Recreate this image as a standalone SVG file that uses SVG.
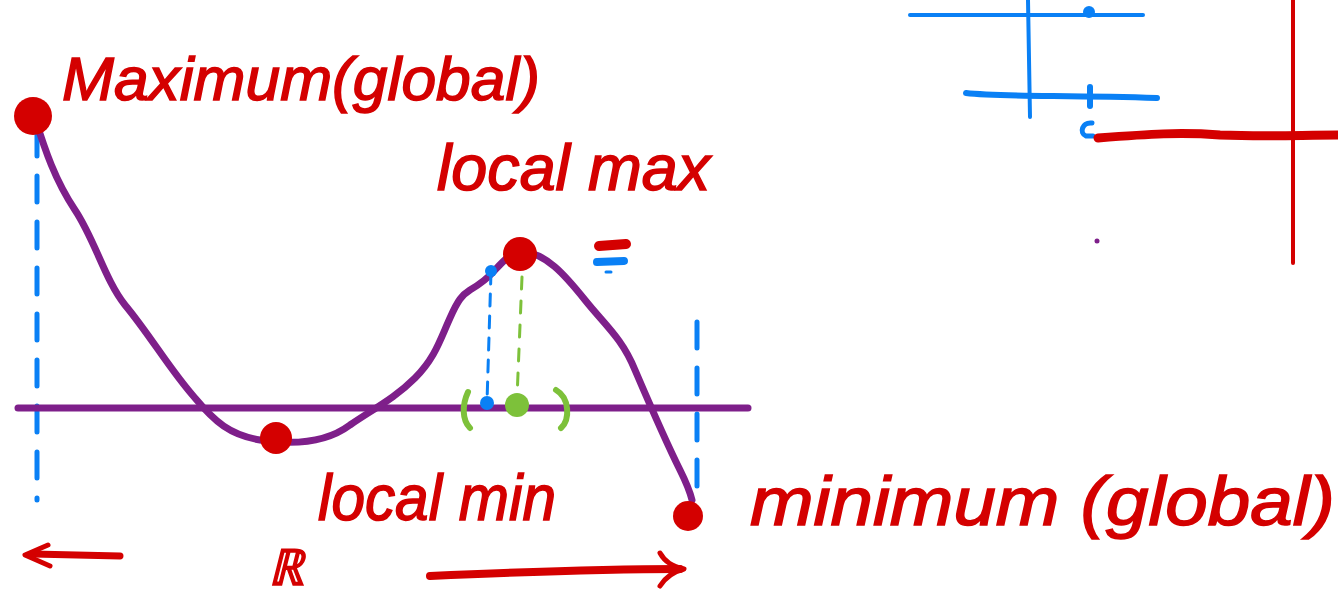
<svg xmlns="http://www.w3.org/2000/svg" width="1338" height="598" viewBox="0 0 1338 598">
<style>
.pur{fill:none;stroke:#7E1F8A;stroke-width:7;stroke-linecap:round;stroke-linejoin:round}
.red{fill:none;stroke:#D40000;stroke-linecap:round;stroke-linejoin:round}
.blu{fill:none;stroke:#0A80F5;stroke-linecap:round;stroke-linejoin:round}
.grn{fill:none;stroke:#7DC13A;stroke-linecap:round;stroke-linejoin:round}
.t{font-family:"Liberation Sans",Arial,sans-serif;fill:#D40000;font-style:italic;stroke:#D40000;stroke-width:1.5}
</style>
<rect width="1338" height="598" fill="#fff"/>
<g id="guides">
<line class="blu" x1="37" y1="130" x2="37" y2="500" stroke-width="5" stroke-dasharray="26,20"/>
<line class="blu" x1="697" y1="322" x2="697" y2="505" stroke-width="5" stroke-dasharray="26,20"/>
<line class="pur" x1="18" y1="408" x2="748" y2="408"/>
</g>
<g id="curve">
<path class="pur" d="M35,118 C45,150 55,180 75,210 C95,240 105,280 125,305 C150,335 170,370 195,398 C215,422 230,435 260,440 C300,446 330,440 350,425 C375,408 395,398 415,378 C435,358 440,340 450,318 C458,300 462,295 470,290 C482,283 488,278 495,270 C505,259 512,252 522,252 C545,252 565,275 585,300 C605,325 622,338 635,370 C650,405 665,440 680,470 C686,482 690,492 692,500"/>
</g>
<g id="dots">
<circle cx="33" cy="116" r="19" fill="#D40000"/>
<circle cx="276" cy="438" r="16" fill="#D40000"/>
<circle cx="520" cy="254" r="17" fill="#D40000"/>
<circle cx="688" cy="516" r="15" fill="#D40000"/>
</g>
<g id="neighborhood">
<line class="blu" x1="491" y1="272" x2="487" y2="402" stroke-width="3" stroke-dasharray="12,10"/>
<circle cx="491" cy="271" r="6" fill="#0A80F5"/>
<circle cx="487" cy="403" r="7" fill="#0A80F5"/>
<line class="grn" x1="522" y1="277" x2="517" y2="398" stroke-width="3" stroke-dasharray="12,12"/>
<circle cx="517" cy="405" r="12" fill="#7DC13A"/>
<path class="grn" stroke-width="6" d="M468,392 C462,405 462,420 470,428"/>
<path class="grn" stroke-width="6" d="M556,390 C570,398 570,420 561,428"/>
<path class="red" stroke-width="10" d="M599,246 L626,244"/>
<path class="blu" stroke-width="8" d="M597,262 L624,261"/>
<path class="blu" stroke-width="3" d="M606,272 L611,272"/>
</g>
<g id="labels">
<text class="t" x="62" y="100" font-size="62" textLength="478" lengthAdjust="spacingAndGlyphs">Maximum(global)</text>
<text class="t" x="437" y="190" font-size="64" textLength="273" lengthAdjust="spacingAndGlyphs">local max</text>
<text class="t" x="318" y="520" font-size="64" textLength="238" lengthAdjust="spacingAndGlyphs">local min</text>
<text class="t" x="750" y="525" font-size="68" textLength="585" lengthAdjust="spacingAndGlyphs">minimum (global)</text>
<text class="t" x="268" y="585" font-size="50" font-style="normal">ℝ</text>
</g>
<g id="arrows">
<path class="red" stroke-width="7" d="M120,556 L33,554"/>
<path class="red" stroke-width="5" d="M48,545 L25,555 L50,566"/>
<path class="red" stroke-width="8" d="M430,576 C520,572 600,569 680,569"/>
<path class="red" stroke-width="5" d="M660,553 C665,562 672,566 684,569 C672,572 665,578 660,586"/>
</g>
<g id="topright">
<line class="blu" x1="910" y1="15" x2="1143" y2="15" stroke-width="4"/>
<line class="blu" x1="1028" y1="0" x2="1030" y2="117" stroke-width="4"/>
<circle cx="1089" cy="12" r="6" fill="#0A80F5"/>
<path class="blu" stroke-width="6" d="M966,93 C1000,97 1060,95 1157,98"/>
<line class="blu" x1="1090" y1="87" x2="1090" y2="106" stroke-width="6"/>
<path class="blu" stroke-width="5" d="M1092,123 C1082,122 1079,133 1086,136 L1093,136"/>
<path class="red" stroke-width="9" d="M1098,138 C1150,134 1180,132 1220,135 C1270,137 1300,135 1338,135"/>
<line class="red" x1="1293" y1="0" x2="1293" y2="263" stroke-width="4"/>
<circle cx="1097" cy="241" r="2.5" fill="#7E1F8A"/>
</g>
</svg>
